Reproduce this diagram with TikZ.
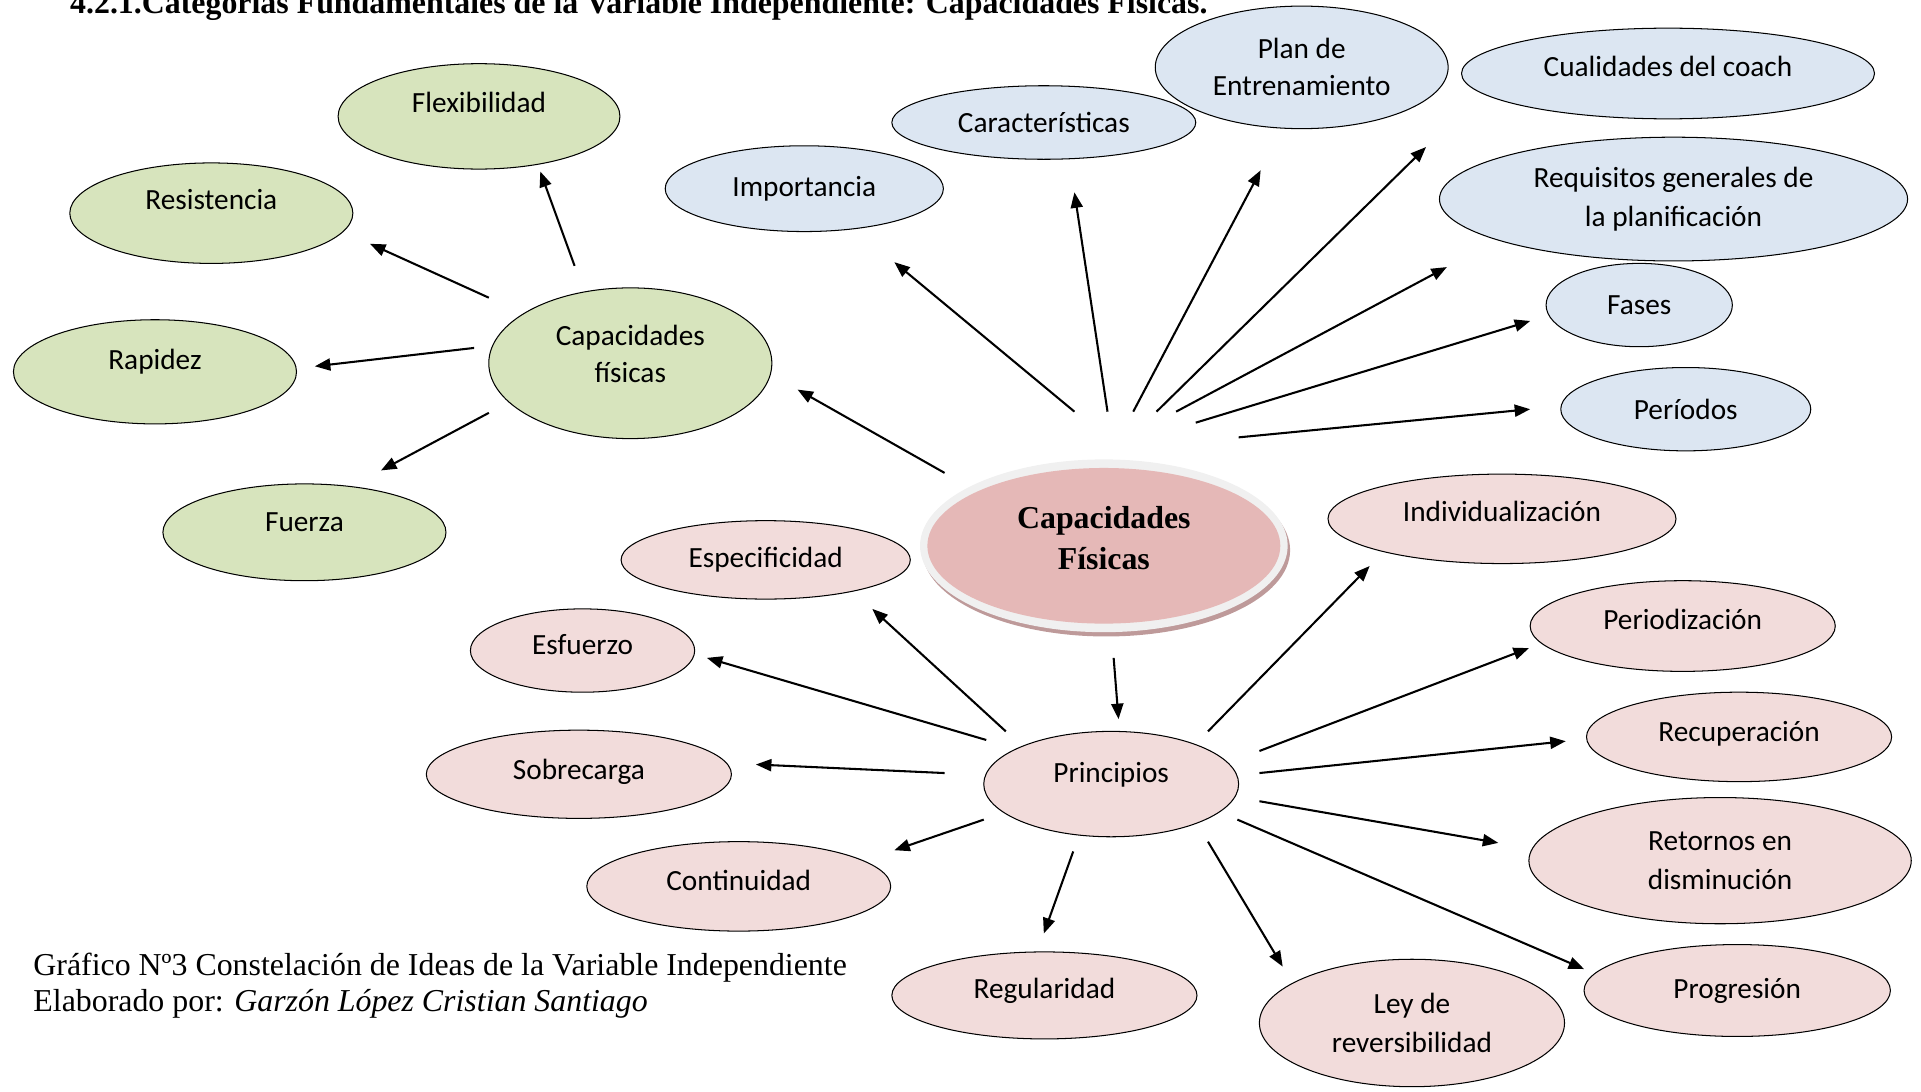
\documentclass[tikz,border=0pt]{standalone}
\usepackage{fontspec}
\setmainfont{Liberation Serif}
\newfontfamily\bubblefont{Carlito}
\usepackage{xcolor}
\usetikzlibrary{shapes.geometric,arrows.meta,calc}
\definecolor{CapGreen}{HTML}{D7E4BD}
\definecolor{CapBlue}{HTML}{DCE6F2}
\definecolor{CapPink}{HTML}{F2DCDB}
\definecolor{CapRose}{HTML}{E5B8B7}
\definecolor{CapRing}{HTML}{F0F0F0}
\definecolor{CapShade}{HTML}{BE9A9A}

\tikzset{
  bubble/.style={ellipse, draw=black, line width=0.6pt, inner sep=0pt, align=center,
    font=\bubblefont\fontsize{17}{23}\selectfont},
  greenbub/.style={bubble, fill=CapGreen},
  bluebub/.style={bubble, fill=CapBlue},
  pinkbub/.style={bubble, fill=CapPink},
  dims/.style 2 args={minimum width=#1cm, minimum height=#2cm},
  lifted/.style={text height=12pt, text depth=#1},
  arr/.style={line width=1.2pt, -{Triangle[length=9pt,width=7pt]}},
}

\begin{document}
\begin{tikzpicture}[x=0.025cm, y=-0.025cm]
    \useasboundingbox (0,0) rectangle (1568,891);

    % title line, cut at the top edge
    \node[anchor=base west, inner sep=0pt, font=\bfseries\fontsize{18.5}{22}\selectfont] (title) at (57,11)
        {4.2.1.Categorías Fundamentales de la Variable Independiente: Capacidades Físicas.};

    % centre
    \node[ellipse, fill=CapShade, dims={7.5}{3.525}] (hubshade) at (903,449) {};
    \node[ellipse, fill=CapRing, dims={7.5}{3.525}] (hubring) at (901,445.5) {};
    \node[ellipse, fill=CapRose, dims={7.2}{3.175}, align=center,
        font=\bfseries\fontsize{18.5}{24}\selectfont] (hub) at (901,445.5) {Capacidades\\Físicas\rule[-9pt]{0pt}{9pt}};

    % green group
    \node[greenbub, dims={5.775}{3.075}, font=\bubblefont\fontsize{17}{21}\selectfont] (capfis) at (514.5,296.5)
        {Capacidades\\físicas\rule[-11pt]{0pt}{11pt}};
    \node[greenbub, dims={5.75}{2.15}, lifted=16pt] (flex) at (391,95) {Flexibilidad};
    \node[greenbub, dims={5.775}{2.05}, lifted=16pt] (resist) at (172.5,174) {Resistencia};
    \node[greenbub, dims={5.775}{2.125}, lifted=15pt] (rapidez) at (126.5,303.5) {Rapidez};
    \node[greenbub, dims={5.775}{1.975}, lifted=13pt] (fuerza) at (248.5,434.5) {Fuerza};

    % blue group
    \node[bluebub, dims={5.675}{1.75}] (import) at (656.5,154) {Importancia};
    \node[bluebub, dims={6.2}{1.5}] (caract) at (852,100) {Características};
    \node[bluebub, dims={5.975}{2.5}, font=\bubblefont\fontsize{17}{21.5}\selectfont] (plan) at (1062.5,55)
        {Plan de\\Entrenamiento};
    \node[bluebub, dims={8.425}{1.85}, lifted=8pt] (cualid) at (1361.5,60) {Cualidades del coach};
    \node[bluebub, dims={9.55}{2.525}] (requis) at (1366,162.5) {Requisitos generales de\\la planificación};
    \node[bluebub, dims={3.8}{1.7}] (fases) at (1338,249) {Fases};
    \node[bluebub, dims={5.1}{1.7}] (period) at (1376,334) {Períodos};

    % pink group
    \node[pinkbub, dims={5.2}{2.15}, lifted=14pt] (princ) at (907,640) {Principios};
    \node[pinkbub, dims={5.9}{1.6}] (espec) at (625,457) {Especificidad};
    \node[pinkbub, dims={4.575}{1.7}, lifted=7pt] (esfuer) at (475.5,531) {Esfuerzo};
    \node[pinkbub, dims={6.225}{1.8}, lifted=6pt] (sobrec) at (472.5,632) {Sobrecarga};
    \node[pinkbub, dims={6.2}{1.825}, lifted=7pt] (contin) at (603,723.5) {Continuidad};
    \node[pinkbub, dims={6.225}{1.775}, lifted=8pt] (regular) at (852.5,812.5) {Regularidad};
    \node[pinkbub, dims={6.225}{2.6}] (ley) at (1152.5,835) {Ley de\\reversibilidad};
    \node[pinkbub, dims={7.1}{1.825}, lifted=9pt] (indiv) at (1226,423.5) {Individualización};
    \node[pinkbub, dims={6.225}{1.85}, lifted=8pt] (periodiz) at (1373.5,511) {Periodización};
    \node[pinkbub, dims={6.225}{1.825}, lifted=7pt] (recup) at (1419.5,601.5) {Recuperación};
    \node[pinkbub, dims={7.8}{2.575}] (retorn) at (1404,702.5) {Retornos en\\disminución};
    \node[pinkbub, dims={6.25}{1.875}] (progres) at (1418,808.5) {Progresión};

    % caption
    \node[anchor=base west, inner sep=0pt, font=\fontsize{18.5}{22}\selectfont] (caption) at (27,796)
        {Gráfico Nº3 Constelación de Ideas de la Variable Independiente};
    \node[anchor=base west, inner sep=0pt, font=\fontsize{18.5}{22}\selectfont] (author) at (27,826)
        {Elaborado por: \textit{Garzón López Cristian Santiago}};

    % arrows of the green group
    \draw[arr] ($(capfis)+(-45.5,-79.5)$) -- ($(flex)+(50,45)$);
    \draw[arr] ($(capfis)+(-115.5,-53.5)$) -- ($(resist)+(129.5,25)$);
    \draw[arr] ($(capfis)+(-127.5,-12.5)$) -- ($(rapidez)+(130.5,-4.5)$);
    \draw[arr] ($(capfis)+(-115.5,40.5)$) -- ($(fuerza)+(62.5,-50.5)$);

    % arrows from the centre
    \draw[arr] ($(hub)+(-130,-59.5)$) -- ($(capfis)+(136.5,21.5)$);
    \draw[arr] ($(hub)+(-24,-109.5)$) -- ($(import)+(73.5,60)$);
    \draw[arr] ($(hub)+(3,-109.5)$) -- ($(caract)+(25,57)$);
    \draw[arr] ($(hub)+(24,-109.5)$) -- ($(plan)+(-33.5,84)$);
    \draw[arr] ($(hub)+(43,-109.5)$) -- ($(cualid)+(-197.5,60)$);
    \draw[arr] ($(hub)+(59,-109.5)$) -- ($(requis)+(-185,55.5)$);
    \draw[arr] ($(hub)+(75,-100.5)$) -- ($(fases)+(-89,13)$);
    \draw[arr] ($(hub)+(110,-88.5)$) -- ($(period)+(-127,0)$);
    \draw[arr] ($(hub)+(8,91.5)$) -- ($(princ)+(6,-53)$);

    % arrows of the principles
    \draw[arr] ($(princ)+(79,-43)$) -- ($(indiv)+(-108,38.5)$);
    \draw[arr] ($(princ)+(121,-27)$) -- ($(periodiz)+(-125.5,18)$);
    \draw[arr] ($(princ)+(121,-9)$) -- ($(recup)+(-141.5,3.5)$);
    \draw[arr] ($(princ)+(121,14)$) -- ($(retorn)+(-181,-14.5)$);
    \draw[arr] ($(princ)+(103,29)$) -- ($(progres)+(-125,-17.5)$);
    \draw[arr] ($(princ)+(79,47)$) -- ($(ley)+(-105.5,-46)$);
    \draw[arr] ($(princ)+(-31,55)$) -- ($(regular)+(-0.5,-50.5)$);
    \draw[arr] ($(princ)+(-104,29)$) -- ($(contin)+(127,-29.5)$);
    \draw[arr] ($(princ)+(-136,-9)$) -- ($(sobrec)+(144.5,-8)$);
    \draw[arr] ($(princ)+(-102,-36)$) -- ($(esfuer)+(101.5,6)$);
    \draw[arr] ($(princ)+(-86,-43)$) -- ($(espec)+(87,40)$);
\end{tikzpicture}
\end{document}
